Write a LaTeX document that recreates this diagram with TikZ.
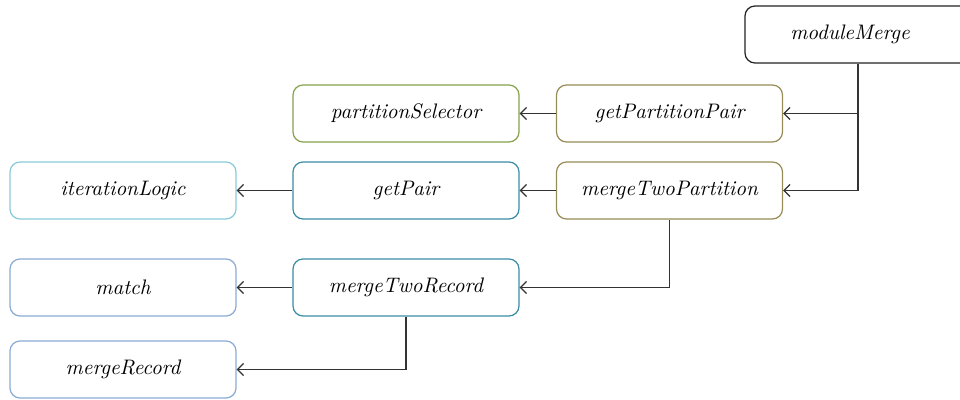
\documentclass[tikz,border=0pt]{standalone}
\usepackage{xcolor}
\usepackage{tikz}
\usetikzlibrary{arrows.meta}
\definecolor{cblack}{HTML}{222222}
\definecolor{cgreen}{HTML}{86A24A}
\definecolor{colive}{HTML}{978C55}
\definecolor{cteal}{HTML}{3A8CA6}
\definecolor{ccyan}{HTML}{88CAD8}
\definecolor{cblue}{HTML}{8AAAD4}
\definecolor{cline}{HTML}{333333}
\tikzset{
    fn/.style={draw=#1,rounded corners=5pt,line width=0.6pt,minimum width=113pt,minimum height=28.5pt,font=\fontsize{10.5}{12}\selectfont\itshape,inner sep=0pt},
    call/.style={{Straight Barb[length=3pt,width=6pt]}-,cline,line width=0.65pt}
}

\begin{document}
\begin{tikzpicture}[x=0.5pt,y=-0.5pt]
                \useasboundingbox (0,0) rectangle (960,400);

                \node[fn=cblack] (moduleMerge) at (858,34.5) {\hspace*{-8pt}moduleMerge};

                \node[fn=cgreen] (partitionSelector) at (406,113.5) {partitionSelector};
                \node[fn=colive] (getPartitionPair) at (669.5,113.5) {getPartitionPair};

                \node[fn=ccyan] (iterationLogic) at (123,190.5) {iterationLogic};
                \node[fn=cteal] (getPair) at (406,190.5) {getPair};
                \node[fn=colive] (mergeTwoPartition) at (669.5,190.5) {mergeTwoPartition};

                \node[fn=cblue] (match) at (123,287.5) {match};
                \node[fn=cteal] (mergeTwoRecord) at (406,287.5) {mergeTwoRecord};

                \node[fn=cblue] (mergeRecord) at (123,369.5) {mergeRecord};

                \draw[call] (getPartitionPair.east) -| (moduleMerge.south);
                \draw[call] (mergeTwoPartition.east) -| (moduleMerge.south);
                \draw[call] (partitionSelector) -- (getPartitionPair);
                \draw[call] (getPair) -- (mergeTwoPartition);
                \draw[call] (iterationLogic) -- (getPair);
                \draw[call] (mergeTwoRecord.east) -| (mergeTwoPartition.south);
                \draw[call] (match) -- (mergeTwoRecord);
                \draw[call] (mergeRecord.east) -| (mergeTwoRecord.south);
            \end{tikzpicture}
\end{document}
